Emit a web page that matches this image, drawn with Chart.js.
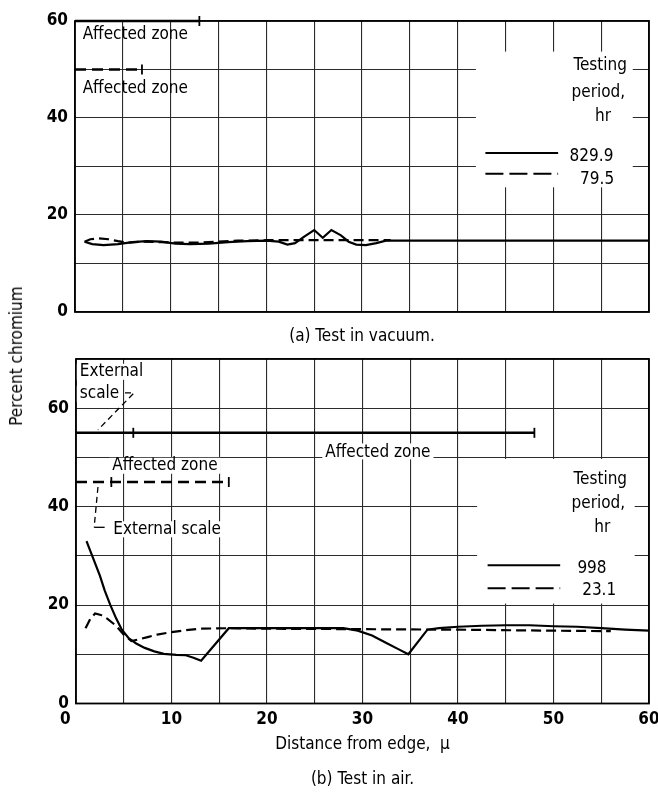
<!DOCTYPE html>
<html>
<head>
<meta charset="utf-8">
<script src="https://cdn.jsdelivr.net/npm/chart.js@4.4.1/dist/chart.umd.min.js"></script>
<style>
  body { margin: 0; background: #fff; }
  #page { position: relative; width: 658px; height: 794px; overflow: hidden; background: #fff; }
  #vacuum-box { position: absolute; left: 0; top: 0; width: 658px; height: 350px; }
  #air-box { position: absolute; left: 0; top: 350px; width: 658px; height: 444px; }
  #y-title {
    position: absolute; left: 16px; top: 356px;
    transform: translate(-50%, -50%) rotate(-90deg);
    white-space: nowrap; color: #000;
    font: 17px 'DejaVu Sans Condensed', 'Liberation Sans Narrow', 'DejaVu Sans', sans-serif;
  }
</style>
</head>
<body>
<div id="page">
  <div id="vacuum-box"><canvas id="vacuum-chart" width="658" height="350"></canvas></div>
  <div id="air-box"><canvas id="air-chart" width="658" height="444"></canvas></div>
  <div id="y-title">Percent chromium</div>
</div>
<script>
const FONT = "'DejaVu Sans Condensed', 'Liberation Sans Narrow', 'DejaVu Sans', sans-serif";
const INK = '#000';

// (a) test in vacuum - distance from edge (micron) / percent chromium
const vac829X = [1.0, 1.8, 3.0, 4.5, 6.0, 7.5, 9.0, 10.5, 12.0, 14.0, 16.0, 18.0, 20.0, 21.3, 22.2, 23.0, 24.0, 25.0, 25.9, 26.8, 27.8, 28.6, 29.4, 30.4, 31.5, 32.5, 40, 50, 60];
const vac829Y = [14.5, 14.0, 13.8, 14.0, 14.4, 14.6, 14.5, 14.1, 14.0, 14.1, 14.4, 14.6, 14.7, 14.5, 13.9, 14.2, 15.6, 16.9, 15.3, 16.9, 15.8, 14.5, 13.9, 13.8, 14.2, 14.7, 14.7, 14.7, 14.7];
const vac79X = [1.0, 1.6, 2.5, 3.5, 4.5, 5.5, 7.0, 9.0, 11.0, 13.0, 15.0, 17.0, 20.0, 25.0, 30.0, 33.0];
const vac79Y = [14.5, 15.0, 15.2, 15.0, 14.6, 14.3, 14.5, 14.4, 14.3, 14.3, 14.5, 14.7, 14.8, 14.8, 14.8, 14.8];

// (b) test in air
const air998X = [1.1, 1.8, 2.5, 3.0, 3.6, 4.2, 4.8, 5.5, 6.3, 7.2, 8.2, 9.2, 10.5, 11.5, 12.3, 13.1, 16.0, 20, 25, 28, 29.5, 31, 32.5, 33.8, 34.8, 36.8, 38, 40, 42.5, 45, 47.5, 50, 52.5, 55, 57.5, 60];
const air998Y = [33, 29.5, 26, 23, 20, 17.3, 15, 13.3, 12.2, 11.3, 10.6, 10.1, 9.9, 9.8, 9.3, 8.7, 15.3, 15.3, 15.3, 15.3, 14.8, 13.8, 12.3, 11.0, 10.0, 15.0, 15.3, 15.6, 15.8, 15.9, 15.9, 15.7, 15.6, 15.3, 15.0, 14.8];
const air23X = [1.0, 1.5, 2.0, 2.6, 3.3, 4.2, 5.0, 5.8, 6.5, 7.5, 8.5, 10, 11.5, 13, 16, 20, 30, 40, 50, 56];
const air23Y = [15.3, 17.2, 18.3, 18.0, 17.2, 15.8, 14.0, 12.7, 13.0, 13.5, 14.0, 14.5, 14.9, 15.2, 15.3, 15.2, 15.1, 15.0, 14.8, 14.7];

// affected zone depths (micron): end marks along each bar
const vacZone829 = [13];
const vacZone79 = [7];
const airZone998 = [6, 48];
const airZone23 = [3.7, 16];

const xTicks = [0, 10, 20, 30, 40, 50, 60];
const yTicks = [0, 20, 40, 60];

function pairs(xs, ys) {
    return xs.map((x, i) => ({ x: x, y: ys[i] }));
}

function curve(label, xs, ys, dashed) {
    return {
        label: label,
        data: pairs(xs, ys),
        borderColor: INK,
        borderWidth: 2.2,
        borderDash: dashed ? [10, 5] : [],
        pointRadius: 0,
        tension: 0,
        fill: false
    };
}

function px(chart, v, w) {
    return [chart.scales.x.getPixelForValue(v), chart.scales.y.getPixelForValue(w)];
}

// extra marks: frame, zone bars, labels, leader lines, hand-drawn key
const notes = {
    id: 'notes',
    beforeDatasetsDraw(chart, args, o) {
        const ctx = chart.ctx;
        const p0 = px(chart, o.blank[0], o.blank[2]);
        const p1 = px(chart, o.blank[1], o.blank[3]);
        ctx.save();
        ctx.fillStyle = '#fff';
        ctx.fillRect(p0[0], p0[1] + 1.5, p1[0] - p0[0], p1[1] - p0[1] - 3);
        ctx.restore();
    },
    afterDatasetsDraw(chart, args, o) {
        const ctx = chart.ctx;
        const a = chart.chartArea;
        ctx.save();
        ctx.strokeStyle = INK;
        ctx.fillStyle = INK;
        ctx.lineWidth = 1.8;
        ctx.strokeRect(a.left, a.top, a.width, a.height);

        // zone bars with end marks
        o.zones.forEach(z => {
            const start = px(chart, 0, z.level);
            const end = px(chart, z.marks[z.marks.length - 1], z.level);
            ctx.lineWidth = 2.4;
            ctx.setLineDash(z.dashed ? [11, 6] : []);
            ctx.beginPath();
            ctx.moveTo(start[0], start[1]);
            ctx.lineTo(end[0], end[1]);
            ctx.stroke();
            ctx.setLineDash([]);
            ctx.lineWidth = 1.8;
            z.marks.forEach(m => {
                const p = px(chart, m, z.level);
                ctx.beginPath();
                ctx.moveTo(p[0], p[1] - 5);
                ctx.lineTo(p[0], p[1] + 5);
                ctx.stroke();
            });
        });

        // leader lines and key samples
        o.lines.forEach(l => {
            ctx.lineWidth = l.width || 1.6;
            ctx.setLineDash(l.dashed ? l.dash || [10, 5] : []);
            ctx.beginPath();
            l.pts.forEach((q, i) => {
                const p = px(chart, q[0], q[1]);
                if (i === 0) ctx.moveTo(p[0], p[1]); else ctx.lineTo(p[0], p[1]);
            });
            ctx.stroke();
        });
        ctx.setLineDash([]);

        ctx.font = '17px ' + FONT;
        o.texts.forEach(t => {
            const p = px(chart, t.x, t.y);
            ctx.textAlign = t.align || 'left';
            ctx.textBaseline = t.baseline || 'middle';
            if (t.blank) {
                const w = ctx.measureText(t.text).width;
                const left = t.align === 'center' ? p[0] - w / 2 : p[0];
                const top = t.baseline === 'alphabetic' ? p[1] - 14 : p[1] - 8;
                ctx.fillStyle = '#fff';
                ctx.fillRect(left - 3, top, w + 6, 16);
                ctx.fillStyle = INK;
            }
            ctx.fillText(t.text, p[0], p[1]);
        });
        ctx.restore();
    }
};

function scales(yMax, yWidth, showX) {
    return {
        x: {
            type: 'linear', min: 0, max: 60,
            afterBuildTicks: s => { s.ticks = [0, 5, 10, 15, 20, 25, 30, 35, 40, 45, 50, 55, 60].map(v => ({ value: v })); },
            ticks: {
                display: showX, autoSkip: false, maxRotation: 0, padding: 6, color: INK,
                font: { size: 17, weight: 'bold' },
                callback: v => xTicks.includes(v) ? (v === 0 ? '0    ' : String(v)) : ''
            },
            grid: { color: '#2b2b2b', lineWidth: 1.1, drawTicks: false },
            border: { display: false },
            title: {
                display: showX, text: 'Distance from edge,  μ', color: INK,
                font: { size: 17 }, padding: { top: 0, bottom: 14.6 }
            },
            afterFit: s => {
                s.height = showX ? 66.3 : 0;
                s.paddingLeft = 0;
                s.paddingRight = 0;
            }
        },
        y: {
            min: 0, max: yMax,
            ticks: {
                stepSize: 10, padding: 7, color: INK, font: { size: 17, weight: 'bold' },
                callback: v => yTicks.includes(v) ? String(v) : ''
            },
            grid: { color: '#2b2b2b', lineWidth: 1.1, drawTicks: false },
            border: { display: false },
            afterFit: s => {
                s.width = yWidth;
                s.paddingTop = 0;
                s.paddingBottom = 0;
            }
        }
    };
}

Chart.defaults.font.family = FONT;
Chart.defaults.color = INK;

new Chart(document.getElementById('vacuum-chart').getContext('2d'), {
    type: 'line',
    data: {
        datasets: [
            curve('829.9', vac829X, vac829Y, false),
            curve('79.5', vac79X, vac79Y, true)
        ]
    },
    options: {
        responsive: false,
        animation: false,
        devicePixelRatio: 1,
        layout: { padding: { top: 21, right: 9, left: 0, bottom: 0 } },
        scales: scales(60, 75, false),
        plugins: {
            legend: { display: false },
            tooltip: { enabled: false },
            title: {
                display: true, text: '(a) Test in vacuum.', position: 'bottom', fullSize: false,
                color: INK, font: { size: 17, weight: 'normal' }, padding: { top: 14.8, bottom: 2.8 }
            },
            notes: {
                blank: [41.9, 58.3, 54, 25.4],
                zones: [
                    { level: 60, marks: vacZone829, dashed: false },
                    { level: 50, marks: vacZone79, dashed: true }
                ],
                lines: [
                    { pts: [[42.9, 32.8], [50.5, 32.8]], width: 2 },
                    { pts: [[42.9, 28.5], [50.5, 28.5]], width: 2, dashed: true, dash: [18, 6] }
                ],
                texts: [
                    { text: 'Affected zone', x: 0.8, y: 57.1 },
                    { text: 'Affected zone', x: 0.8, y: 46.0 },
                    { text: 'Testing', x: 54.9, y: 50.9, align: 'center' },
                    { text: 'period,', x: 54.7, y: 45.2, align: 'center' },
                    { text: 'hr', x: 55.2, y: 40.2, align: 'center' },
                    { text: '829.9', x: 51.7, y: 32.0 },
                    { text: '79.5', x: 52.8, y: 27.4 }
                ]
            }
        }
    },
    plugins: [notes]
});

new Chart(document.getElementById('air-chart').getContext('2d'), {
    type: 'line',
    data: {
        datasets: [
            curve('998', air998X, air998Y, false),
            curve('23.1', air23X, air23Y, true)
        ]
    },
    options: {
        responsive: false,
        animation: false,
        devicePixelRatio: 1,
        layout: { padding: { top: 9, right: 9, left: 0, bottom: 0 } },
        scales: scales(70, 76, true),
        plugins: {
            legend: { display: false },
            tooltip: { enabled: false },
            title: {
                display: true, text: '(b) Test in air.', position: 'bottom', fullSize: false,
                color: INK, font: { size: 17, weight: 'normal' }, padding: { top: 0, bottom: 3.8 }
            },
            notes: {
                blank: [42, 58.5, 50, 20],
                zones: [
                    { level: 55, marks: airZone998, dashed: false },
                    { level: 45, marks: airZone23, dashed: true }
                ],
                lines: [
                    { pts: [[5.13, 63.1], [6.07, 63.1], [2.3, 55.6]], dashed: true, dash: [6, 4], width: 1.3 },
                    { pts: [[2.3, 44], [1.9, 35.8]], dashed: true, dash: [6, 4], width: 1.3 },
                    { pts: [[1.9, 35.8], [3.0, 35.8]], width: 1.3 },
                    { pts: [[43.1, 28.1], [50.7, 28.1]], width: 2 },
                    { pts: [[43.1, 23.4], [50.7, 23.4]], width: 2, dashed: true, dash: [18, 6] }
                ],
                texts: [
                    { text: 'External', x: 0.4, y: 67.4, blank: true },
                    { text: 'scale', x: 0.4, y: 62.9, blank: true },
                    { text: 'Affected zone', x: 26.1, y: 50, baseline: 'alphabetic', blank: true },
                    { text: 'Affected zone', x: 3.8, y: 48.3, blank: true },
                    { text: 'External scale', x: 3.9, y: 35.4, blank: true },
                    { text: 'Testing', x: 54.9, y: 45.4, align: 'center' },
                    { text: 'period,', x: 54.7, y: 40.7, align: 'center' },
                    { text: 'hr', x: 55.1, y: 35.8, align: 'center' },
                    { text: '998', x: 52.5, y: 27.5 },
                    { text: '23.1', x: 53.0, y: 23.0 }
                ]
            }
        }
    },
    plugins: [notes]
});
</script>
</body>
</html>
